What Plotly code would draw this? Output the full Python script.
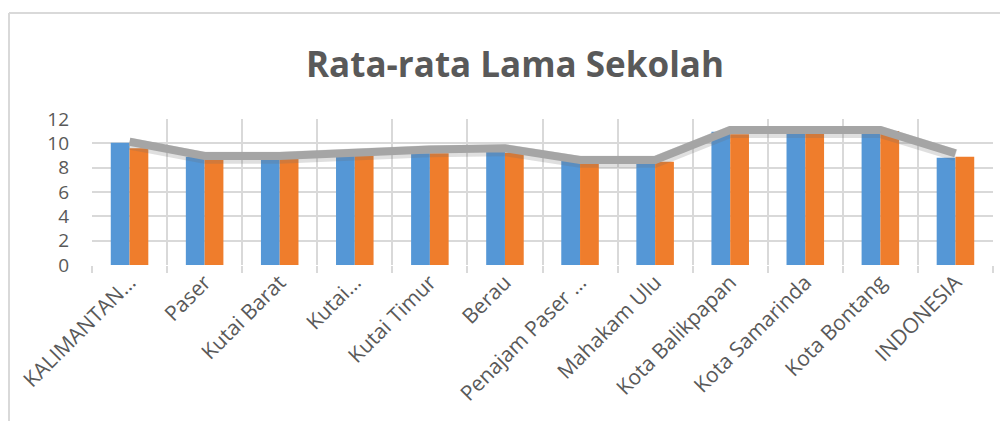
import plotly.graph_objects as go

categories = ["KALIMANTAN TIMUR", "Paser", "Kutai Barat", "Kutai Kartanegara", "Kutai Timur",
              "Berau", "Penajam Paser Utara", "Mahakam Ulu", "Kota Balikpapan",
              "Kota Samarinda", "Kota Bontang", "INDONESIA"]
tick_labels = ["KALIMANTAN…", "Paser", "Kutai Barat", "Kutai…", "Kutai Timur", "Berau",
               "Penajam Paser …", "Mahakam Ulu", "Kota Balikpapan", "Kota Samarinda",
               "Kota Bontang", "INDONESIA"]
series_blue = [10.05, 8.90, 8.68, 8.96, 9.18, 9.31, 8.55, 8.41, 10.95, 10.80, 10.80, 8.82]
series_orange = [9.60, 8.68, 8.77, 9.01, 9.18, 9.23, 8.41, 8.49, 10.74, 10.80, 11.01, 8.90]
series_line = [10.13, 8.96, 8.96, 9.31, 9.50, 9.59, 8.63, 8.63, 11.09, 11.09, 11.09, 9.18]

ML, MR, MT, MB = 84, 23, 111, 164
W, H = 1008, 421
PW, PH = W - ML - MR, H - MT - MB

fig = go.Figure()
fig.add_trace(go.Bar(x=categories, y=series_blue, marker=dict(color="#5597d6", line=dict(width=0)), name="A"))
fig.add_trace(go.Bar(x=categories, y=series_orange, marker=dict(color="#ef7d2c", line=dict(width=0)), name="B"))
# soft shadow of the line
fig.add_trace(go.Scatter(x=categories, y=[v - 0.15 for v in series_line], mode="lines",
                         line=dict(color="rgba(110,110,110,0.22)", width=12), hoverinfo="skip", name="shadow"))
fig.add_trace(go.Scatter(x=categories, y=series_line, mode="lines",
                         line=dict(color="#a5a5a5", width=8), name="C"))

fig.update_layout(
    width=W, height=H,
    paper_bgcolor="white", plot_bgcolor="white",
    showlegend=False,
    barmode="group", bargap=0.5, bargroupgap=0,
    margin=dict(l=ML, r=MR, t=MT, b=MB, autoexpand=False),
    title=dict(text="<b>Rata-rata Lama Sekolah</b>", x=(507 - ML) / PW, xref="paper", xanchor="center",
               y=1 - 57 / H, yanchor="middle",
               font=dict(family="Open Sans", size=35, color="#595959")),
    font=dict(family="Open Sans", color="#595959"),
)
fig.update_xaxes(type="category", tickmode="array", tickvals=categories, ticktext=tick_labels,
                 tickangle=-45, tickson="boundaries", showgrid=True, gridcolor="#d9d9d9", gridwidth=2,
                 ticks="outside", ticklen=7, tickwidth=2, tickcolor="#d9d9d9",
                 tickfont=dict(size=21, color="#595959"), showline=False, zeroline=False,
                 range=[-0.5, len(categories) - 0.5], automargin=False)
fig.update_yaxes(range=[0, 12], dtick=2, showgrid=True, gridcolor="#d9d9d9", gridwidth=2,
                 zeroline=False, showline=False, tickfont=dict(size=19, color="#595959"), ticks="",
                 ticklabelstandoff=22, automargin=False)

# chart frame (top and left edges)
x_left = (1 - ML) / PW
y_top = 1 + (MT - 5) / PH
fig.add_shape(type="line", xref="paper", yref="paper", x0=x_left, x1=1.05, y0=y_top, y1=y_top,
              line=dict(color="#d9d9d9", width=2))
fig.add_shape(type="line", xref="paper", yref="paper", x0=x_left, x1=x_left, y0=y_top, y1=-1.3,
              line=dict(color="#d9d9d9", width=2))

fig.write_html("out.html")
